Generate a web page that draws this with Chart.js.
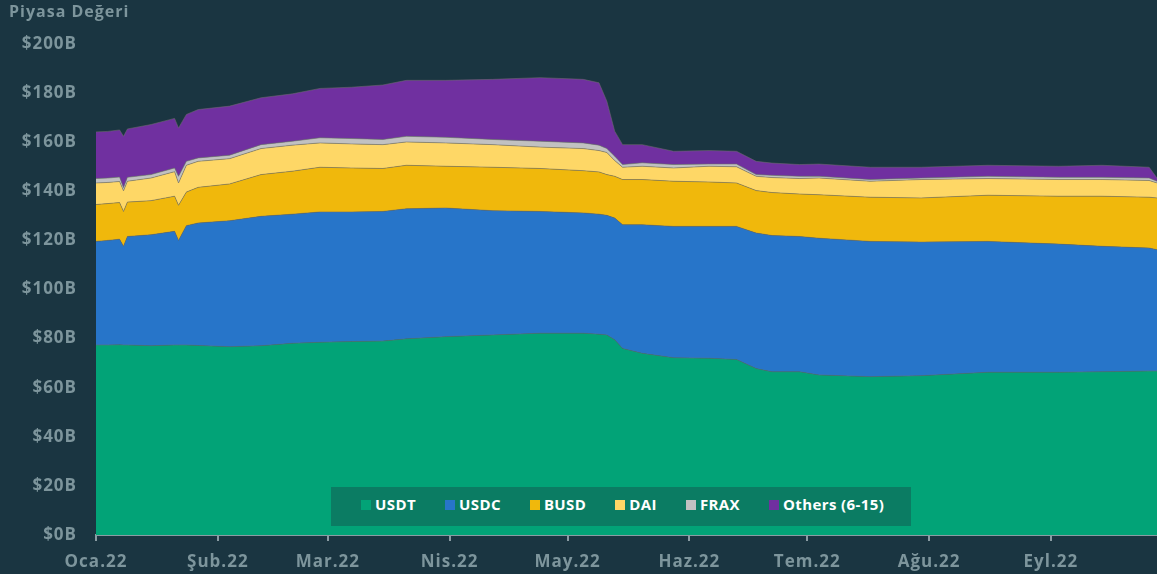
<!DOCTYPE html>
<html>
<head>
<meta charset="utf-8">
<script src="https://cdn.jsdelivr.net/npm/chart.js@4.4.1/dist/chart.umd.min.js"></script>
<style>
  html, body { margin: 0; padding: 0; background: #1a3541; }
  #wrap { position: relative; width: 1157px; height: 574px; overflow: hidden; }
  #title { position: absolute; left: 9px; top: 0px; font: 700 16px 'Open Sans'; letter-spacing: 1px; color: #7d959c; }
  #legend { position: absolute; left: 331px; top: 487px; width: 580px; height: 39px; box-sizing: border-box;
            padding-left: 30px; padding-bottom: 5px; background: #0b7c63; display: flex; align-items: center; gap: 29px;
            font: 700 15px 'Open Sans'; letter-spacing: 0.4px; color: #ffffff; }
  #legend .item { display: flex; align-items: center; }
  #legend .box { width: 10px; height: 10px; margin-right: 4px; margin-top: 2px; }
</style>
</head>
<body>
<div id="wrap">
  <canvas id="chartStable" width="1157" height="574"></canvas>
  <div id="title">Piyasa Değeri</div>
  <div id="legend"></div>
</div>
<script>
// gün (1 Ocak 2022 = 0), değerler milyar $
const days = [0, 3, 6, 7, 8, 14, 20, 21, 23, 26, 34, 42, 50, 57, 65, 73, 79, 89, 101, 113, 124, 128, 130, 132, 134, 139, 147, 156, 163, 168, 172, 179, 184, 197, 210, 227, 245, 256, 268, 270];
const usdt = [77.4, 77.4, 77.5, 77.4, 77.4, 77.1, 77.4, 77.4, 77.4, 77.2, 76.7, 77.1, 78.1, 78.5, 78.8, 79.0, 79.9, 80.8, 81.5, 82.2, 82.2, 81.8, 81.5, 79.5, 76.0, 74.0, 72.2, 72.0, 71.5, 67.8, 66.5, 66.5, 65.2, 64.5, 64.9, 66.3, 66.3, 66.5, 66.8, 66.8];
const usdc = [42.2, 42.6, 43.0, 40.2, 44.2, 45.2, 46.3, 42.6, 48.6, 49.9, 51.3, 52.7, 52.6, 53.1, 52.8, 52.8, 53.0, 52.4, 50.6, 49.6, 49.0, 48.9, 48.7, 49.6, 50.4, 52.4, 53.5, 53.7, 54.2, 55.2, 55.5, 55.1, 55.7, 55.1, 54.4, 53.3, 52.2, 51.1, 50.1, 49.4];
const busd = [15.0, 15.0, 14.9, 14.2, 14.0, 13.9, 14.3, 14.3, 13.7, 14.5, 15.0, 17.0, 17.5, 18.2, 17.9, 17.5, 17.7, 17.0, 17.7, 17.5, 17.2, 17.2, 16.6, 17.0, 18.4, 18.4, 18.4, 18.1, 17.7, 17.3, 17.5, 17.3, 17.7, 18.0, 18.0, 18.8, 19.5, 20.4, 20.7, 21.1];
const dai = [8.8, 8.6, 8.6, 8.4, 8.5, 9.2, 10.0, 9.1, 10.9, 10.6, 10.3, 10.6, 10.6, 9.9, 9.8, 9.7, 9.5, 9.5, 9.2, 8.7, 9.0, 8.7, 9.0, 6.4, 5.0, 5.4, 5.4, 6.4, 6.6, 5.8, 6.1, 6.3, 6.8, 6.5, 7.5, 6.8, 6.8, 6.8, 6.8, 6.1];
const frax = [1.8, 1.8, 1.8, 1.3, 1.6, 1.4, 1.5, 2.7, 1.6, 1.4, 1.4, 1.6, 1.6, 2.1, 2.2, 2.1, 2.3, 2.3, 2.1, 2.4, 2.3, 2.2, 1.6, 1.8, 1.1, 1.4, 1.4, 0.9, 1.1, 0.7, 0.9, 0.9, 0.7, 0.7, 0.6, 0.9, 0.9, 0.9, 1.0, 0.7];
const others = [19.0, 19.0, 19.2, 20.9, 19.7, 20.4, 20.2, 19.7, 19.1, 19.7, 20.0, 19.1, 19.3, 20.1, 20.9, 22.2, 22.8, 23.2, 24.5, 25.9, 25.9, 25.4, 19.3, 10.2, 8.1, 7.4, 5.4, 5.5, 5.2, 5.4, 5.0, 4.8, 5.0, 5.0, 4.4, 4.5, 4.5, 4.9, 4.4, 1.3];

const seriesNames = ['USDT', 'USDC', 'BUSD', 'DAI', 'FRAX', 'Others (6-15)'];
const seriesValues = [usdt, usdc, busd, dai, frax, others];
const seriesColors = ['#02a377', '#2775c9', '#f0b80c', '#fed766', '#c1c1c1', '#7030a0'];

const monthTicks = [0, 31, 59, 90, 120, 151, 181, 212, 243];
const monthLabels = ['Oca.22', 'Şub.22', 'Mar.22', 'Nis.22', 'May.22', 'Haz.22', 'Tem.22', 'Ağu.22', 'Eyl.22'];

const axisColor = '#7d959c';
const tickFont = { family: 'Open Sans', size: 17, weight: '700' };

// harf aralığı (canvas letterSpacing)
const spacingPlugin = {
  id: 'spacing',
  beforeDraw(chart) { chart.ctx.letterSpacing = '1px'; }
};

const datasets = seriesNames.map((name, i) => ({
  label: name,
  data: days.map((d, j) => ({ x: d, y: seriesValues[i][j] })),
  backgroundColor: seriesColors[i],
  borderColor: 'rgba(110,110,110,0.55)',
  borderWidth: 1,
  fill: i === 0 ? 'origin' : '-1',
  pointRadius: 0,
  tension: 0
}));

const chart = new Chart(document.getElementById('chartStable'), {
  type: 'line',
  data: { datasets },
  plugins: [spacingPlugin],
  options: {
    responsive: false,
    animation: false,
    layout: { padding: { top: 44, right: 0, bottom: 0, left: 0 } },
    plugins: {
      legend: { display: false },
      tooltip: { enabled: false }
    },
    scales: {
      x: {
        type: 'linear',
        min: 0,
        max: 270,
        afterBuildTicks: (s) => { s.ticks = monthTicks.map((v) => ({ value: v })); },
        afterFit: (s) => { s.height = 39; },
        ticks: {
          autoSkip: false,
          maxRotation: 0,
          padding: 11,
          color: axisColor,
          font: tickFont,
          callback: (v, i) => monthLabels[i]
        },
        grid: { drawOnChartArea: false, drawTicks: true, tickLength: 6, color: '#8a9ca3', lineWidth: 2 },
        border: { display: true, color: '#8a9ca3', width: 2 }
      },
      y: {
        stacked: true,
        min: 0,
        max: 200,
        afterFit: (s) => { s.width = 96; },
        ticks: {
          stepSize: 20,
          padding: 11,
          color: axisColor,
          font: tickFont,
          callback: (v) => '$' + v + 'B'
        },
        grid: { display: false },
        border: { display: false }
      }
    }
  }
});

// lejant
const legendEl = document.getElementById('legend');
chart.data.datasets.forEach((ds) => {
  const item = document.createElement('div');
  item.className = 'item';
  const box = document.createElement('span');
  box.className = 'box';
  box.style.background = ds.backgroundColor;
  const txt = document.createElement('span');
  txt.textContent = ds.label;
  item.appendChild(box);
  item.appendChild(txt);
  legendEl.appendChild(item);
});
</script>
</body>
</html>
